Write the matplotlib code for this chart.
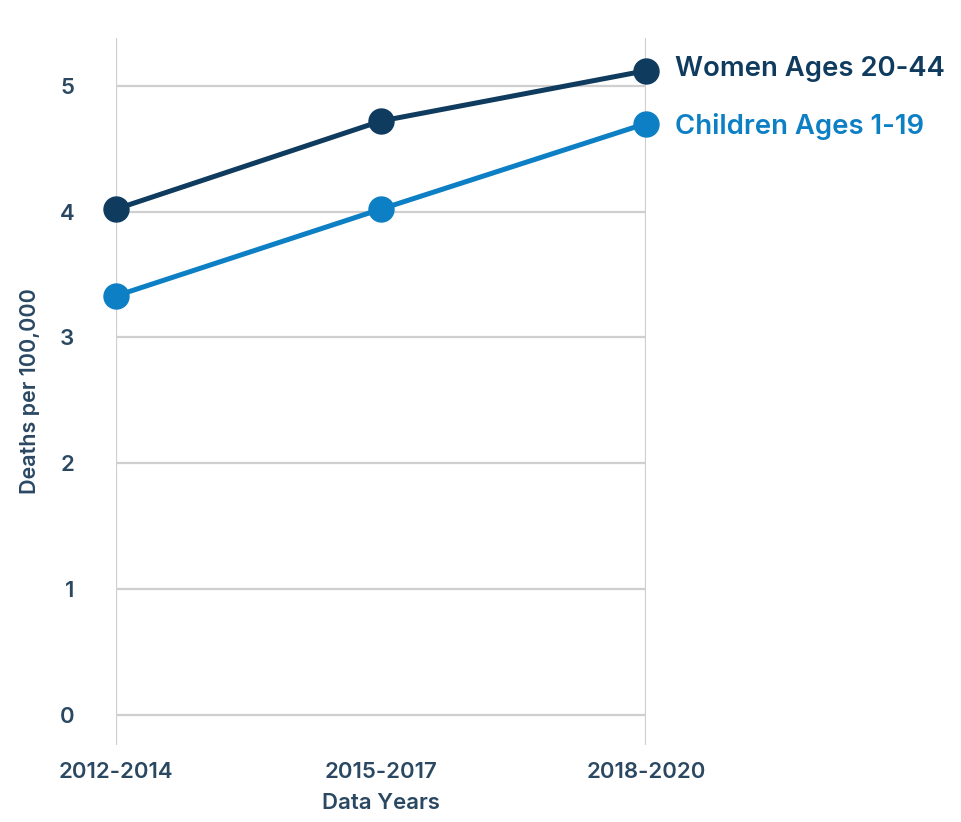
import matplotlib
matplotlib.use("Agg")
import matplotlib.pyplot as plt

periods = ["2012-2014", "2015-2017", "2018-2020"]
women = [4.02, 4.72, 5.12]
children = [3.33, 4.02, 4.70]
series_names = ["Women Ages 20-44", "Children Ages 1-19"]
yticks = [0, 1, 2, 3, 4, 5]

navy = "#0f3b5f"
blue = "#0d7fc4"
text_c = "#2a4862"
grid_c = "#cfcfcf"

plt.rcParams['font.family'] = ['Inter', 'DejaVu Sans']

fig = plt.figure(figsize=(9.61, 8.22), dpi=100)
ax = fig.add_axes([116/961, 1-745/822, 530/961, (745-38)/822])

x = list(range(len(periods)))
ax.set_xlim(0, len(periods) - 1)
ax.set_ylim(-0.24, 5.38)

for s in ax.spines.values():
    s.set_visible(False)

for yv in yticks:
    ax.axhline(yv, color=grid_c, lw=1.6, zorder=1)
ax.axvline(x[0], color=grid_c, lw=1.6, zorder=1)
ax.axvline(x[-1], color=grid_c, lw=1.6, zorder=1)

ax.plot(x, women, color=navy, lw=3.6, marker='o', ms=18, zorder=3, clip_on=False)
ax.plot(x, children, color=blue, lw=3.6, marker='o', ms=18, zorder=3, clip_on=False)

ax.annotate(series_names[0], (x[-1], women[-1]), xytext=(21, 1), textcoords='offset points',
            va='center', ha='left', fontsize=19.8, fontweight='semibold', color=navy, annotation_clip=False)
ax.annotate(series_names[1], (x[-1], children[-1]), xytext=(21, -2), textcoords='offset points',
            va='center', ha='left', fontsize=19.8, fontweight='semibold', color=blue, annotation_clip=False)

ax.set_yticks(yticks)
ax.set_yticklabels([str(v) for v in yticks])
ax.set_xticks(x)
ax.set_xticklabels(periods)
ax.tick_params(axis='both', length=0, colors=text_c, labelsize=16)
ax.tick_params(axis='y', pad=30)
ax.tick_params(axis='x', pad=12)
for lab in ax.get_xticklabels() + ax.get_yticklabels():
    lab.set_fontweight('semibold')

ax.set_xlabel("Data Years", fontsize=16, fontweight='semibold', color=text_c, labelpad=8)
ax.set_ylabel("Deaths per 100,000", fontsize=15.5, fontweight='semibold', color=text_c, labelpad=14)

fig.savefig("out.png", dpi=100, facecolor='white')
